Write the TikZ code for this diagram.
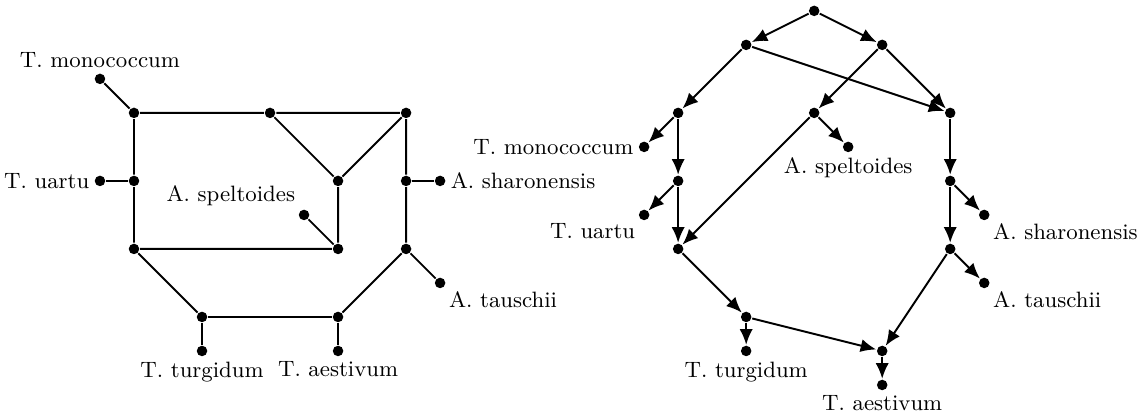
\documentclass[tikz,border=0pt]{standalone}
\usepackage{tikz}
\usetikzlibrary{arrows.meta}
\begin{document}
\begin{tikzpicture}
	[thick, >={Latex[length=6.5pt,width=5.5pt]},
	dot/.style={circle,fill,inner sep=0pt,minimum size=4.4pt},
	every label/.style={inner sep=1.5pt,font=\fontsize{9.3}{11}\selectfont}]
	\useasboundingbox (-1.97,-4.44) rectangle (14.79,1.66);
	% network
	\node[dot] (a) at (0,0) {};
	\node[dot] (b) at (2,0) {};
	\node[dot] (c) at (4,0) {};
	\node[dot] (d) at (0,-1) {};
	\node[dot] (e) at (3,-1) {};
	\node[dot] (f) at (3,-2) {};
	\node[dot] (g) at (0,-2) {};
	\node[dot] (h) at (4,-1) {};
	\node[dot] (i) at (4,-2) {};
	\node[dot] (j) at (1,-3) {};
	\node[dot] (k) at (3,-3) {};
	\node[dot,label=above:T. monococcum] (mono) at (-0.5,0.5) {};
	\node[dot,label=left:T. uartu] (uartu) at (-0.5,-1) {};
	\node[dot,label=above left:A. speltoides] (spelt) at (2.5,-1.5) {};
	\node[dot,label=right:A. sharonensis] (shar) at (4.5,-1) {};
	\node[dot,label=below right:A. tauschii] (taus) at (4.5,-2.5) {};
	\node[dot,label=below:T. turgidum] (turg) at (1,-3.5) {};
	\node[dot,label=below:T. aestivum] (aest) at (3,-3.5) {};
	\draw (mono) -- (a) -- (b) -- (c) -- (h) -- (i) -- (k) -- (j) -- (g) -- (d) -- (a);
	\draw (uartu) -- (d);
	\draw (g) -- (f) -- (e) -- (b);
	\draw (c) -- (e);
	\draw (spelt) -- (f);
	\draw (h) -- (shar);
	\draw (i) -- (taus);
	\draw (j) -- (turg);
	\draw (k) -- (aest);
	% tree
	\node[dot] (r) at (10,1.5) {};
	\node[dot] (r1) at (9,1) {};
	\node[dot] (r2) at (11,1) {};
	\node[dot] (p) at (8,0) {};
	\node[dot] (q) at (10,0) {};
	\node[dot] (s) at (12,0) {};
	\node[dot] (t) at (8,-1) {};
	\node[dot] (u) at (12,-1) {};
	\node[dot] (v) at (8,-2) {};
	\node[dot] (w) at (12,-2) {};
	\node[dot] (x) at (9,-3) {};
	\node[dot] (y) at (11,-3.5) {};
	\node[dot,label=left:T. monococcum] (mono2) at (7.5,-0.5) {};
	\node[dot,label=below left:T. uartu] (uartu2) at (7.5,-1.5) {};
	\node[dot,label=below:A. speltoides] (spelt2) at (10.5,-0.5) {};
	\node[dot,label=below right:A. sharonensis] (shar2) at (12.5,-1.5) {};
	\node[dot,label=below right:A. tauschii] (taus2) at (12.5,-2.5) {};
	\node[dot,label=below:T. turgidum] (turg2) at (9,-3.5) {};
	\node[dot,label=below:T. aestivum] (aest2) at (11,-4) {};
	\draw[->] (r) edge (r1) edge (r2);
	\draw[->] (r1) edge (p) edge (s);
	\draw[->] (r2) edge (q) edge (s);
	\draw[->] (p) edge (mono2) edge (t);
	\draw[->] (t) edge (uartu2) edge (v);
	\draw[->] (q) edge (v) edge (spelt2);
	\draw[->] (s) edge (u);
	\draw[->] (u) edge (shar2) edge (w);
	\draw[->] (w) edge (taus2) edge (y);
	\draw[->] (v) edge (x);
	\draw[->] (x) edge (turg2) edge (y);
	\draw[->] (y) edge (aest2);
\end{tikzpicture}
\end{document}
